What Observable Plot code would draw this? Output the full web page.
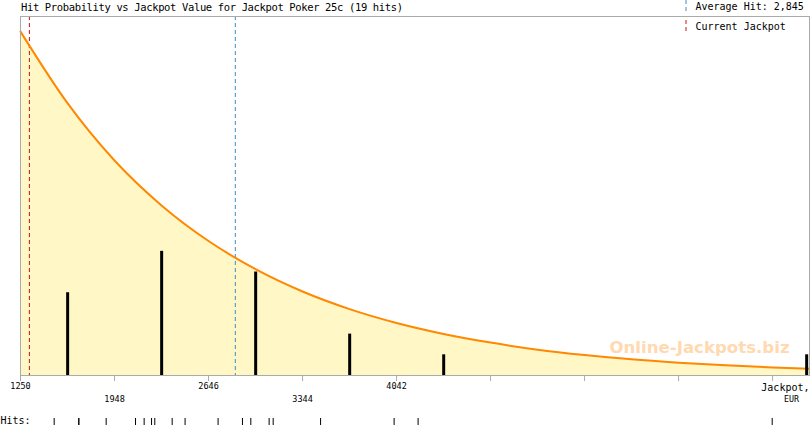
<!DOCTYPE html>
<html>
<head>
<meta charset="utf-8">
<script src="https://cdn.jsdelivr.net/npm/d3@7"></script>
<script src="https://cdn.jsdelivr.net/npm/@observablehq/plot@0.6"></script>
<style>
  html, body { margin: 0; padding: 0; background: #fff; }
  svg { display: block; }
</style>
</head>
<body>
<div id="chart"></div>
<script>
// ---- data ----
const titleText = "Hit Probability vs Jackpot Value for Jackpot Poker 25c (19 hits)";
const averageHit = 2845;
const currentJackpot = 1316;

// histogram bars (bin centre, hits)
const barX = [1600, 2298, 2996, 3694, 4392, 7087];
const barCount = [4, 6, 5, 2, 1, 1];

// individual hits (EUR)
const hits = [1500, 1683, 1683, 1886, 2104, 2168, 2223, 2247, 2376, 2472,
              2717, 2898, 2960, 3096, 3126, 3478, 4024, 4202, 6831];

// probability curve (in hits-per-bin units)
const curveX = [1250, 1599, 1948, 2297, 2646, 2995, 3344, 3693, 4042, 4391,
                4740, 5089, 5438, 5787, 6136, 6485, 6834, 7108];
const curveY = [16.62, 13.16, 10.39, 8.22, 6.50, 5.14, 4.06, 3.21, 2.54, 2.01,
                1.59, 1.25, 0.99, 0.78, 0.62, 0.49, 0.39, 0.33];

// axis ticks
const tickVals = [1250, 1948, 2646, 3344, 4042, 4740, 5438, 6136, 6834];
const labelsRow1 = [1250, 2646, 4042];
const labelsRow2 = [1948, 3344];

// ---- build tables ----
const bars = barX.map((x, i) => ({x, count: barCount[i]}));
const curve = curveX.map((x, i) => ({x, y: curveY[i]}));

const mono = "DejaVu Sans Mono";

const chart = Plot.plot({
  width: 810,
  height: 425,
  marginLeft: 20,
  marginRight: 1,
  marginTop: 16,
  marginBottom: 50,
  style: {fontFamily: mono, background: "#fff", overflow: "visible"},
  x: {domain: [1250, 7108], axis: null},
  y: {domain: [0, 17.35], axis: null},
  marks: [
    Plot.areaY(curve, {x: "x", y: "y", fill: "#fff7c6", curve: "monotone-x"}),
    Plot.text(["Online-Jackpots.biz"], {
      frameAnchor: "bottom-left", dx: 679, dy: -28, text: d => d, lineAnchor: "middle",
      fill: "#ffd9b0", fontFamily: "DejaVu Sans", fontWeight: "bold",
      fontSize: 16.6, textAnchor: "middle"
    }),
    Plot.ruleX([currentJackpot], {x: d => d, stroke: "#cc1111", strokeDasharray: "4,3"}),
    Plot.ruleX([averageHit], {x: d => d, stroke: "#3d8fc4", strokeDasharray: "4,3"}),
    Plot.lineY(curve, {x: "x", y: "y", stroke: "#ff8800", strokeWidth: 2, curve: "monotone-x"}),
    Plot.ruleX(bars, {x: "x", y1: 0, y2: "count", stroke: "#000", strokeWidth: 3}),
    Plot.frame({stroke: "#aaaaaa"}),
    // axis tick lines
    Plot.ruleX(tickVals, {x: d => d, insetTop: 359, insetBottom: -6, stroke: "#aaaaaa"}),
    // axis labels in two rows
    Plot.text(labelsRow1, {x: d => d, text: d => String(d), frameAnchor: "bottom", dy: 11,
      lineAnchor: "middle", fontSize: 8.5, fill: "#000"}),
    Plot.text(labelsRow2, {x: d => d, text: d => String(d), frameAnchor: "bottom", dy: 23.5,
      lineAnchor: "middle", fontSize: 8.5, fill: "#000"}),
    Plot.text(["Jackpot,"], {text: d => d, frameAnchor: "bottom-right", dx: 0, dy: 12,
      lineAnchor: "middle", textAnchor: "end", fontSize: 10, fill: "#000"}),
    Plot.text(["EUR"], {text: d => d, frameAnchor: "bottom-right", dx: -18, dy: 23.5,
      lineAnchor: "middle", textAnchor: "middle", fontSize: 8.3, fill: "#000"}),
    // hits strip
    Plot.text(["Hits:"], {text: d => d, frameAnchor: "bottom-left", dx: -20, dy: 45,
      lineAnchor: "middle", textAnchor: "start", fontSize: 10, fill: "#000"}),
    Plot.ruleX(hits, {x: d => d, insetTop: 402, insetBottom: -50, stroke: "#000"}),
    // title and legend
    Plot.text([titleText], {text: d => d, frameAnchor: "top-left", dx: 0.5, dy: -9,
      lineAnchor: "middle", textAnchor: "start", fontSize: 10.5, fill: "#000", className: "ttl"}),
    Plot.text(["Average Hit: 2,845"], {text: d => d, frameAnchor: "top-left", dx: 675, dy: -9.5,
      lineAnchor: "middle", textAnchor: "start", fontSize: 10, fill: "#000"}),
    Plot.text(["Current Jackpot"], {text: d => d, frameAnchor: "top-left", dx: 675, dy: 10.5,
      lineAnchor: "middle", textAnchor: "start", fontSize: 10, fill: "#000"})
  ]
});

const svg = d3.select(chart);
// stretch the title to the reference's wide pixel-font spacing
svg.selectAll(".ttl text").attr("textLength", 382).attr("lengthAdjust", "spacing");

// legend swatches (short dashed strokes)
svg.append("line").attr("x1", 686).attr("x2", 686).attr("y1", 0).attr("y2", 12)
  .attr("stroke", "#3d8fc4").attr("stroke-dasharray", "4,3");
svg.append("line").attr("x1", 686).attr("x2", 686).attr("y1", 20).attr("y2", 34)
  .attr("stroke", "#cc1111").attr("stroke-dasharray", "4,3");

document.getElementById("chart").appendChild(chart);
</script>
</body>
</html>
